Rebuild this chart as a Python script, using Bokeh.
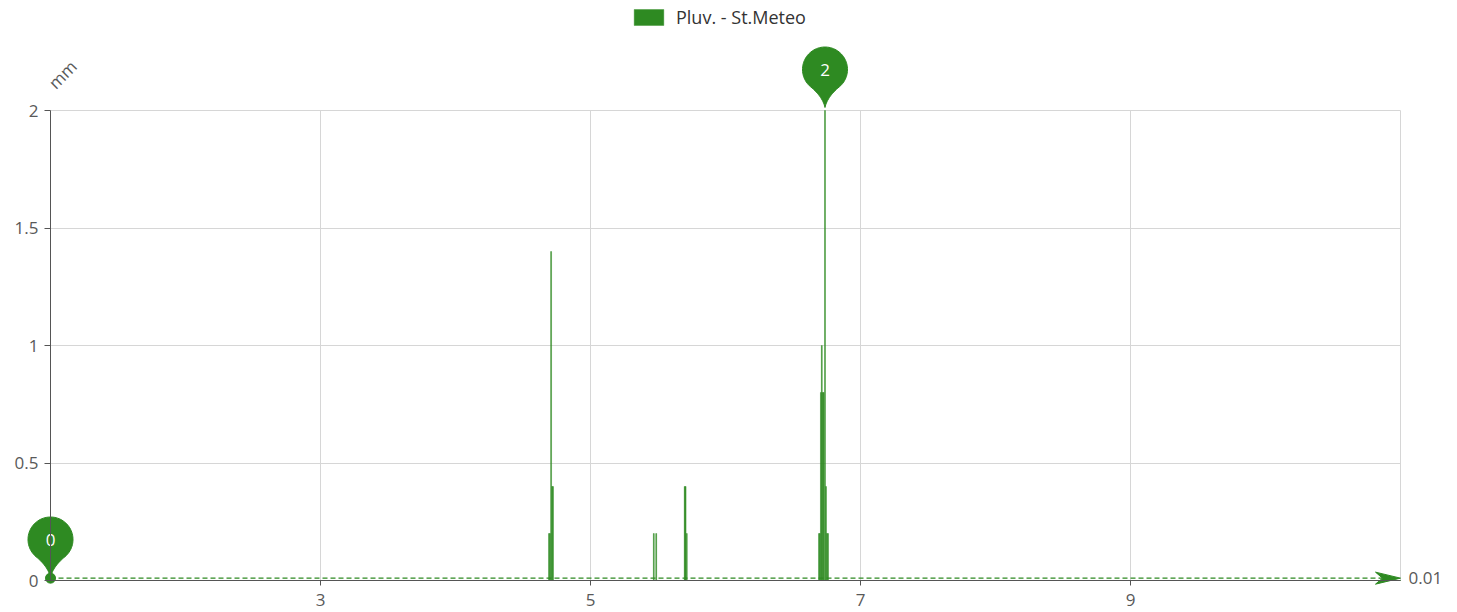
import numpy as np
from bokeh.plotting import figure
from bokeh.models import FixedTicker, NumeralTickFormatter, Label, ColumnDataSource
from bokeh.core.properties import value
from bokeh.embed import file_html
from bokeh.resources import INLINE

# ---------------- data ----------------
series_name = "Pluv. - St.Meteo"
y_axis_name = "mm"
time_days = [1.0,
             4.6926, 4.7000, 4.7081, 4.7156, 4.7222,
             5.4689, 5.4867,
             5.6978, 5.7044, 5.7133,
             6.6926, 6.6993, 6.7067, 6.7133, 6.7207, 6.7274, 6.7370, 6.7444, 6.7519, 6.7593,
             11.0]
rain_mm = [0.0,
           0.2, 0.2, 1.4, 0.4, 0.4,
           0.2, 0.2,
           0.4, 0.4, 0.2,
           0.2, 0.2, 0.8, 1.0, 0.8, 0.8, 2.0, 0.4, 0.2, 0.2,
           0.0]
avg_rain = 0.01
x_label_ticks = [3, 5, 7, 9]
x_grid_ticks = [3, 5, 7, 9, 11]
y_label_ticks = [0, 0.5, 1, 1.5, 2]
y_grid_ticks = [0.5, 1, 1.5, 2]

# ---------------- style ----------------
GREEN = "#2e8a22"
AXIS = "#555555"
LABEL = "#595959"
GRID = "#d6d6d6"
FONT = "Open Sans"

x_min, x_max = 1, 11
y_min, y_max = 0, 2
frame_w, frame_h = 1450, 610
pad_left, pad_right, pad_top, pad_bottom = 50, 50, 110, 30
sx = (x_max - x_min) / (frame_w - pad_left - pad_right)   # data units per px
sy = (y_max - y_min) / (frame_h - pad_top - pad_bottom)

p = figure(frame_width=frame_w, frame_height=frame_h,
           x_range=(x_min - pad_left * sx, x_max + pad_right * sx),
           y_range=(y_min - pad_bottom * sy, y_max + pad_top * sy),
           output_backend="svg", toolbar_location=None, title=None,
           min_border_left=0, min_border_right=0, min_border_top=0, min_border_bottom=0)
p.outline_line_color = None
p.background_fill_color = "white"
p.border_fill_color = "white"

# axes
for ax in (p.xaxis[0], p.yaxis[0]):
    ax.axis_line_color = AXIS
    ax.major_tick_line_color = AXIS
    ax.minor_tick_line_color = None
    ax.major_tick_in = 0
    ax.major_label_text_color = LABEL
    ax.major_label_text_font = FONT
    ax.major_label_text_font_size = "17px"

p.xaxis[0].fixed_location = y_min
p.xaxis[0].bounds = (x_min, x_max)
p.xaxis[0].ticker = FixedTicker(ticks=x_label_ticks)
p.xaxis[0].major_tick_out = 5
p.xaxis[0].major_label_standoff = 8

p.yaxis[0].fixed_location = x_min
p.yaxis[0].bounds = (y_min, y_max)
p.yaxis[0].ticker = FixedTicker(ticks=y_label_ticks)
p.yaxis[0].formatter = NumeralTickFormatter(format="0.[0]")
p.yaxis[0].major_tick_out = 6
p.yaxis[0].major_label_standoff = 6

# grids
p.xgrid.ticker = FixedTicker(ticks=x_grid_ticks)
p.ygrid.ticker = FixedTicker(ticks=y_grid_ticks)
p.xgrid.grid_line_color = GRID
p.ygrid.grid_line_color = GRID
p.xgrid.cross_bounds = (y_min, y_max)
p.ygrid.cross_bounds = (x_min, x_max)

# bars
src = ColumnDataSource(dict(x=time_days, y=rain_mm))
bar_w = 1.0 / 144.0
p.vbar(x="x", top="y", width=bar_w, source=src, fill_color=GREEN, line_color=GREEN,
       line_width=0.4, legend_label=series_name)

# average mark line
p.line([x_min, x_max - 18 * sx], [avg_rain, avg_rain], line_color=GREEN,
       line_dash="5 3", line_width=1.2)
p.scatter([x_min], [avg_rain], size=10, marker="circle", fill_color=GREEN, line_color=GREEN)
head_x = [x_max, x_max - 25 * sx, x_max - 18 * sx, x_max - 25 * sx]
head_y = [avg_rain, avg_rain + 6 * sy, avg_rain, avg_rain - 6 * sy]
p.patch(head_x, head_y, fill_color=GREEN, line_color=GREEN)
p.add_layout(Label(x=x_max, y=avg_rain, x_offset=8, text=f"{avg_rain:g}",
                   text_baseline="middle", text_align="left", text_color=LABEL,
                   text_font=FONT, text_font_size="17px"))

# pins for max / min
def pin_shape(x0, y0):
    r, cy, tip = 22.5, 41.0, 3.0
    a = np.radians(np.linspace(-50, 230, 70))
    px = list(r * np.cos(a))
    py = list(cy + r * np.sin(a))
    t = np.linspace(0, 1, 16)
    lx0, ly0 = px[-1], py[-1]
    qx = (1 - t) ** 2 * lx0 + 2 * (1 - t) * t * (-2.5) + t ** 2 * 0
    qy = (1 - t) ** 2 * ly0 + 2 * (1 - t) * t * 14 + t ** 2 * tip
    px += list(qx[1:]); py += list(qy[1:])
    rx0, ry0 = r * np.cos(np.radians(-50)), cy + r * np.sin(np.radians(-50))
    qx = (1 - t) ** 2 * 0 + 2 * (1 - t) * t * 2.5 + t ** 2 * rx0
    qy = (1 - t) ** 2 * tip + 2 * (1 - t) * t * 14 + t ** 2 * ry0
    px += list(qx[1:-1]); py += list(qy[1:-1])
    return [x0 + v * sx for v in px], [y0 + v * sy for v in py], (x0, y0 + cy * sy)

vals = np.array(rain_mm)
i_max = int(np.argmax(vals))
i_min = int(np.argmin(vals))
pin_xs, pin_ys, lx, ly, lt = [], [], [], [], []
for i in (i_min, i_max):
    xs, ys, (cx, cyy) = pin_shape(time_days[i], rain_mm[i])
    pin_xs.append(xs); pin_ys.append(ys)
    lx.append(cx); ly.append(cyy); lt.append(f"{rain_mm[i]:g}")
p.patches(pin_xs, pin_ys, fill_color=GREEN, line_color=GREEN)
p.text(x=lx, y=ly, text=lt, text_color="white", text_align="center",
       text_baseline="middle", text_font=value(FONT), text_font_size=value("17px"))

# y-axis name
p.add_layout(Label(x=x_min, y=y_max, x_offset=12, y_offset=36, text=y_axis_name,
                   angle=45, angle_units="deg", text_align="center", text_baseline="middle",
                   text_color=LABEL, text_font=FONT, text_font_size="17px"))

# legend
lg = p.legend[0]
lg.location = (630, frame_h - 9 - 20)
lg.orientation = "horizontal"
lg.margin = 0
lg.padding = 0
lg.spacing = 0
lg.glyph_width = 37
lg.glyph_height = 20
lg.label_height = 20
lg.label_standoff = 9
lg.label_text_font = FONT
lg.label_text_font_size = "18px"
lg.label_text_color = "#333333"
lg.background_fill_alpha = 0
lg.border_line_color = None

open("out.html", "w").write(file_html(p, INLINE))
